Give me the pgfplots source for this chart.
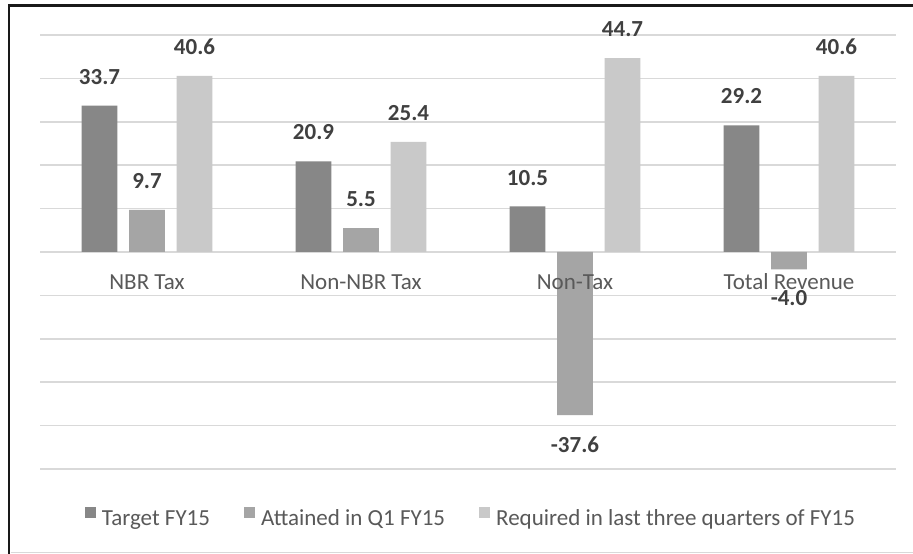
\documentclass[border=0pt]{standalone}
\usepackage{pgfplots}
\pgfplotsset{compat=1.18}
\usepackage{fontspec}
\setmainfont{Carlito}
\definecolor{cTarget}{HTML}{878787}
\definecolor{cAtt}{HTML}{A5A5A5}
\definecolor{cReq}{HTML}{C9C9C9}
\definecolor{gridc}{HTML}{D9D9D9}
\definecolor{txt}{HTML}{595959}
\definecolor{lbl}{HTML}{404040}
\begin{document}
\begin{tikzpicture}
\useasboundingbox (0,0) rectangle (913bp,554bp);
\fill[white] (0,0) rectangle (913bp,554bp);
\begin{axis}[
  at={(40bp,85bp)}, anchor=south west,
  scale only axis, width=856bp, height=434bp,
  xmin=-0.5, xmax=3.5, ymin=-50, ymax=50,
  axis lines=box,
  axis line style={draw=none},
  xtick={0,1,2,3}, xticklabels={},
  ytick={-50,-40,...,50}, yticklabels={},
  major tick length=0pt,
  ymajorgrids, grid style={draw=gridc, line width=1.5bp},
  ybar, bar width=0.168,
  /pgf/number format/.cd, fixed, zerofill, precision=1, assume math mode=true,
  /pgfplots/.cd,
  nodes near coords,
  every node near coord/.append style={font=\bfseries\fontsize{23bp}{27bp}\selectfont, text=lbl, inner ysep=21bp, inner xsep=0pt},
  legend columns=-1,
  legend style={at={(0.5,0)}, anchor=center, yshift=-49bp, xshift=2bp, draw=none, fill=none,
    font=\fontsize{23bp}{27bp}\selectfont, text=txt,
    nodes={inner xsep=0pt},
    /tikz/every odd column/.append style={column sep=6bp},
    /tikz/every even column/.append style={column sep=34bp}},
  legend image code/.code={\draw[#1, draw=none] (0bp,1bp) rectangle (11bp,12bp);},
]
\addplot[fill=cTarget, draw=none, bar shift=-0.222] coordinates {(0,33.7) (1,20.9) (2,10.5) (3,29.2)};
\addplot[fill=cAtt, draw=none, bar shift=0] coordinates {(0,9.7) (1,5.5) (2,-37.6) (3,-4.0)};
\addplot[fill=cReq, draw=none, bar shift=0.222] coordinates {(0,40.6) (1,25.4) (2,44.7) (3,40.6)};
\legend{Target FY15, Attained in Q1 FY15, Required in last three quarters of FY15}
\begin{scope}[every node/.style={font=\fontsize{23bp}{27bp}\selectfont, text=txt, anchor=base, inner sep=0pt}]
\node at (axis cs:0,0) [yshift=-37bp] {NBR Tax};
\node at (axis cs:1,0) [yshift=-37bp] {Non-NBR Tax};
\node at (axis cs:2,0) [yshift=-37bp] {Non-Tax};
\node at (axis cs:3,0) [yshift=-37bp] {Total Revenue};
\end{scope}
\end{axis}
\draw[line width=2.7bp, black!90] (9bp,0) -- (9bp,548.65bp) -- (913bp,548.65bp);
\draw[gridc, line width=1bp] (10.5bp,1.5bp) -- (913bp,1.5bp);
\end{tikzpicture}
\end{document}
